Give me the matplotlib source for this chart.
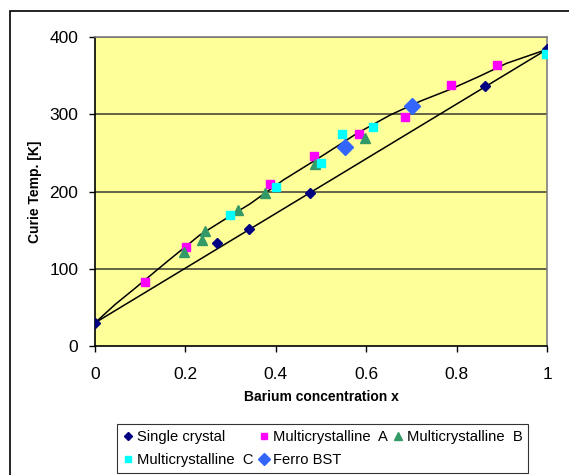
import matplotlib
matplotlib.use("Agg")
from matplotlib import pyplot as plt
from matplotlib.patches import Rectangle

plt.rcParams['font.family'] = ['Liberation Sans', 'DejaVu Sans']

# data
single_x = [0.0, 0.271, 0.341, 0.476, 0.863, 1.0]
single_T = [30, 133.6, 151.8, 198.4, 337, 384.5]

multi_a_x = [0.111, 0.201, 0.387, 0.485, 0.583, 0.686, 0.787, 0.889]
multi_a_T = [82.4, 127.7, 209.3, 246.4, 274, 296.9, 337.5, 363.8]

multi_b_x = [0.198, 0.237, 0.243, 0.316, 0.375, 0.487, 0.598]
multi_b_T = [121.3, 137.2, 148.9, 176, 197.6, 235.2, 268.8]

multi_c_x = [0.299, 0.400, 0.500, 0.547, 0.616, 0.998]
multi_c_T = [169.2, 206.3, 236.5, 274, 284, 378]

ferro_x = [0.552, 0.701]
ferro_T = [258, 310.7]

# upper curve (multicrystalline fit) and lower straight line (single crystal)
curve_x = [0.0, 0.045, 0.0885, 0.159, 0.232, 0.29, 0.343, 0.417, 0.505,
           0.579, 0.653, 0.72, 0.785, 0.85, 0.911, 1.0]
curve_T = [30, 54, 74.7, 109, 143.7, 165, 184, 215, 247,
           275, 299, 317, 332, 349, 366, 384]
line_x = [0.0, 1.0]
line_T = [30, 384]

fig = plt.figure(figsize=(5.69, 4.75), dpi=100)
ax = fig.add_axes([95 / 569, 1 - 346 / 475, 452 / 569, 309 / 475])
ax.set_facecolor('#FFFF99')

for y in [100, 200, 300, 400]:
    ax.axhline(y, color='#4a4a3a', lw=1.2, zorder=1)

ax.plot(curve_x, curve_T, color='black', lw=1.1, zorder=2)
ax.plot(line_x, line_T, color='black', lw=1.1, zorder=2)

h_sc, = ax.plot(single_x, single_T, 'D', color='#000080', ms=5, ls='none', zorder=3, label='Single crystal')
h_a, = ax.plot(multi_a_x, multi_a_T, 's', color='#FF00FF', ms=6, ls='none', zorder=3, label='Multicrystalline  A')
h_b, = ax.plot(multi_b_x, multi_b_T, '^', color='#339966', ms=7.5, ls='none', zorder=3, label='Multicrystalline  B')
h_c, = ax.plot(multi_c_x, multi_c_T, 's', color='#00FFFF', ms=6, ls='none', zorder=3, label='Multicrystalline  C')
h_f, = ax.plot(ferro_x, ferro_T, 'D', color='#3366FF', ms=8, ls='none', zorder=4, label='Ferro BST')

ax.set_xlim(0, 1)
ax.set_ylim(0, 400)
ax.set_xticks([0, 0.2, 0.4, 0.6, 0.8, 1])
ax.set_xticklabels(['0', '0.2', '0.4', '0.6', '0.8', '1'])
ax.set_yticks([0, 100, 200, 300, 400])
ax.tick_params(labelsize=12.5, length=4, width=1, direction='out')
ax.tick_params(axis='x', pad=11)
ax.tick_params(axis='y', pad=8)

ax.spines['left'].set_color('black')
ax.spines['bottom'].set_color('black')
ax.spines['top'].set_color('#808080')
ax.spines['right'].set_color('#808080')
for s in ax.spines.values():
    s.set_linewidth(1.2)

ax.set_xlabel('Barium concentration x', fontsize=10, fontweight='bold', labelpad=6)
ax.set_ylabel('Curie Temp. [K]', fontsize=10, fontweight='bold')
ax.yaxis.set_label_coords(-(95 - 42) / 452, 0.5)

leg = fig.legend(handles=[h_sc, h_c, h_a, h_f, h_b], ncol=3, loc='upper left',
                 bbox_to_anchor=(117 / 569, 1 - 424 / 475), borderaxespad=0,
                 fontsize=10.6, frameon=True, fancybox=False, handlelength=0.7,
                 handletextpad=0.25, columnspacing=0.35, labelspacing=0.6,
                 borderpad=0.4, markerscale=0.8)
leg.get_frame().set_edgecolor('black')
leg.get_frame().set_linewidth(0.8)

# outer chart border
fig.add_artist(Rectangle((9.5 / 569, -0.1), 1.2, 1 - 10.5 / 475 + 0.1,
                         transform=fig.transFigure, fill=False,
                         edgecolor='black', lw=1.2))

fig.savefig('out.png', dpi=100)
